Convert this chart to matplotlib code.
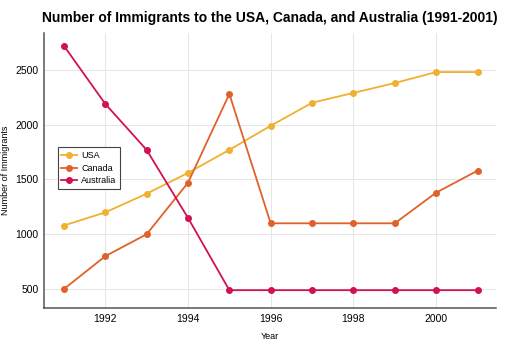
import matplotlib
matplotlib.use("Agg")
import matplotlib.pyplot as plt

years = [1991, 1992, 1993, 1994, 1995, 1996, 1997, 1998, 1999, 2000, 2001]
usa = [1080, 1200, 1370, 1560, 1770, 1990, 2200, 2290, 2380, 2480, 2480]
canada = [500, 800, 1000, 1470, 2280, 1100, 1100, 1100, 1100, 1380, 1580]
australia = [2720, 2190, 1770, 1150, 490, 490, 490, 490, 490, 490, 490]

series = [("USA", usa, "#f0b030"), ("Canada", canada, "#e0622a"),
          ("Australia", australia, "#d0124e")]

plt.rcParams["font.family"] = ["Liberation Sans", "DejaVu Sans"]

fig = plt.figure(figsize=(5.12, 3.42), dpi=100)
ax = fig.add_axes([0.086, 0.099, 0.883, 0.805])

for name, vals, col in series:
    ax.plot(years, vals, "o-", color=col, label=name, linewidth=1.3, markersize=4)

ax.set_xlim(1990.52, 2001.45)
ax.set_ylim(326, 2838)
ax.set_xticks([1992, 1994, 1996, 1998, 2000])
ax.set_yticks([500, 1000, 1500, 2000, 2500])
ax.tick_params(length=0, labelsize=7.5, pad=4)
ax.grid(True, color="#e6e6e6", linewidth=0.7)
ax.set_axisbelow(True)
for s in ["top", "right"]:
    ax.spines[s].set_visible(False)
for s in ["left", "bottom"]:
    ax.spines[s].set_color("#555555")
    ax.spines[s].set_linewidth(1.1)

ax.set_xlabel("Year", fontsize=6.5)
ax.set_ylabel("Number of Immigrants", fontsize=6.5)
ax.xaxis.set_label_coords(0.5, -0.085)
ax.yaxis.set_label_coords(-0.075, 0.5)
ax.set_title("Number of Immigrants to the USA, Canada, and Australia (1991-2001)",
             fontsize=10, fontweight="bold", pad=8)

leg = ax.legend(loc="upper left", bbox_to_anchor=(0.02, 0.6), fontsize=6.5,
                fancybox=False, framealpha=1, edgecolor="#444444",
                handlelength=1.7, handletextpad=0.5, borderpad=0.4,
                labelspacing=0.4)
leg.get_frame().set_linewidth(0.8)

fig.savefig("out.png", dpi=100)
